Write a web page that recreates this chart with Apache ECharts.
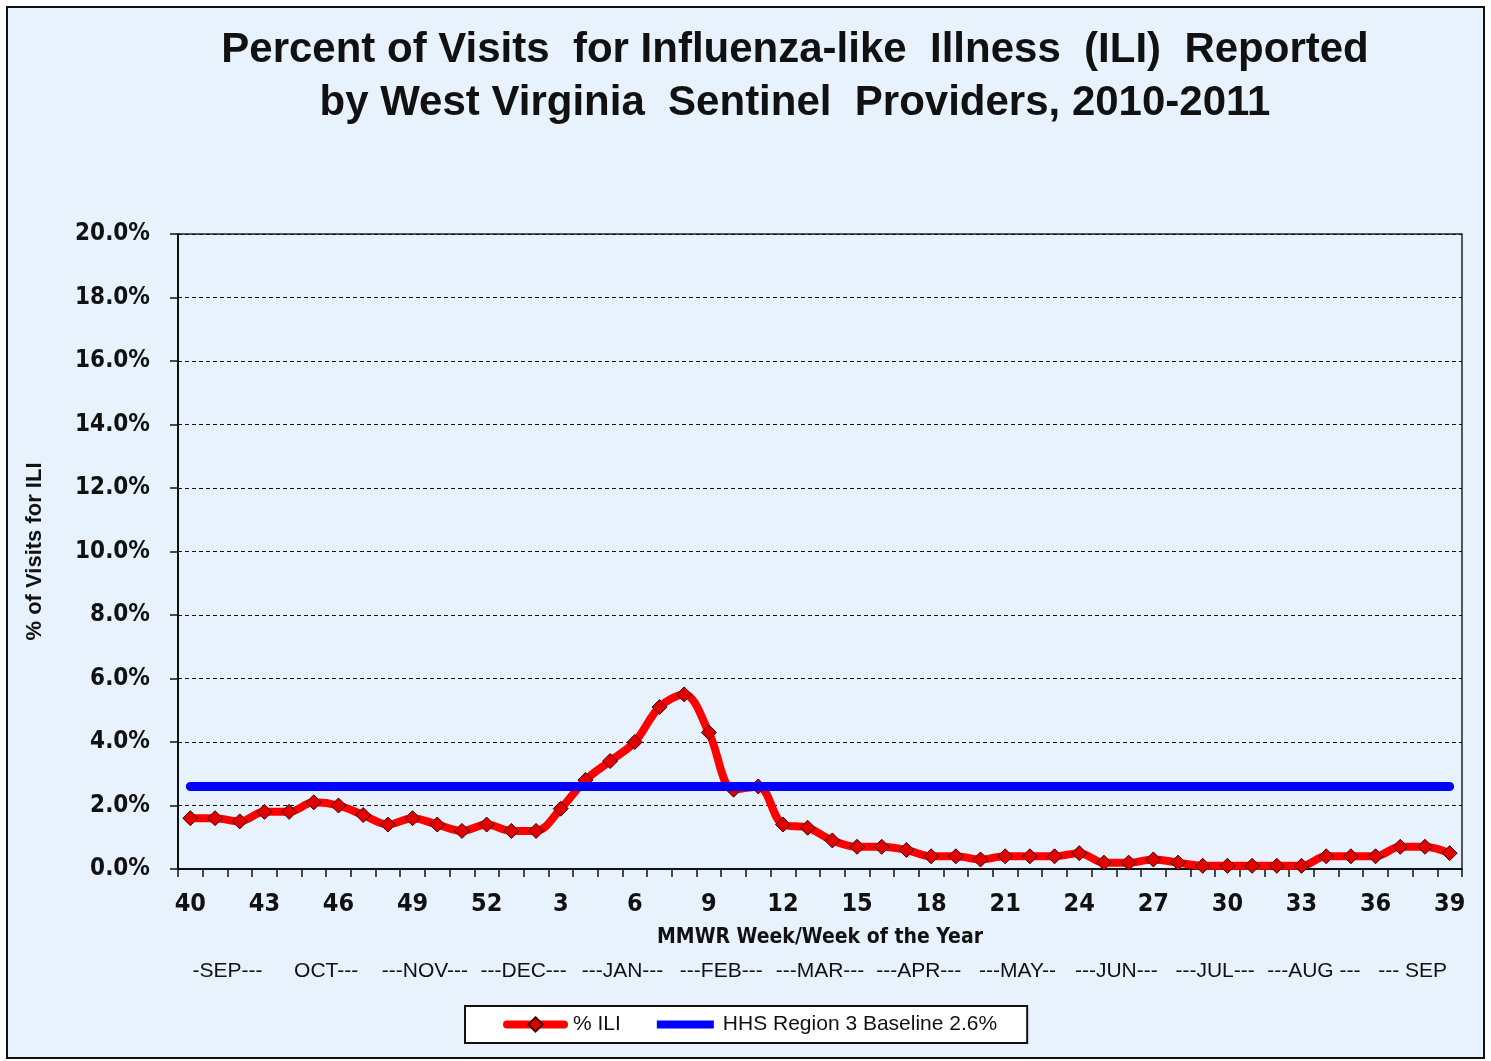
<!DOCTYPE html>
<html>
<head>
<meta charset="utf-8">
<script src="https://cdn.jsdelivr.net/npm/echarts@6/dist/echarts.min.js"></script>
<style>
  html, body { margin: 0; padding: 0; background: #fff; }
  #App { width: 1491px; height: 1061px; }
</style>
</head>
<body>
<div id="App"></div>
<script>
// MMWR weeks 40 (2010) through 39 (2011)
const weeks = [40, 41, 42, 43, 44, 45, 46, 47, 48, 49, 50, 51, 52,
  1, 2, 3, 4, 5, 6, 7, 8, 9, 10, 11, 12, 13, 14, 15, 16, 17, 18, 19, 20,
  21, 22, 23, 24, 25, 26, 27, 28, 29, 30, 31, 32, 33, 34, 35, 36, 37, 38, 39];
const iliPct = [1.6, 1.6, 1.5, 1.8, 1.8, 2.1, 2.0, 1.7, 1.4, 1.6, 1.4, 1.2, 1.4,
  1.2, 1.2, 1.9, 2.8, 3.4, 4.0, 5.1, 5.5, 4.3, 2.5, 2.6, 1.4, 1.3, 0.9, 0.7, 0.7, 0.6, 0.4, 0.4, 0.3,
  0.4, 0.4, 0.4, 0.5, 0.2, 0.2, 0.3, 0.2, 0.1, 0.1, 0.1, 0.1, 0.1, 0.4, 0.4, 0.4, 0.7, 0.7, 0.5];
const baselineValue = 2.6;
const baseline = weeks.map(() => baselineValue);
const months = ['-SEP---', 'OCT---', '---NOV---', '---DEC---', '---JAN---', '---FEB---', '---MAR---',
  '---APR---', '---MAY--', '---JUN---', '---JUL---', '---AUG ---', '--- SEP'];
const titleText = 'Percent of Visits  for Influenza-like  Illness  (ILI)  Reported\nby West Virginia  Sentinel  Providers, 2010-2011';

const narrow = "'Liberation Sans Narrow', 'DejaVu Sans Condensed', 'Liberation Sans', sans-serif";
const arial = "'Liberation Sans', Arial, sans-serif";
const bg = '#E8F2FC';

const chart = echarts.init(document.getElementById('App'));
chart.setOption({
    animation: false,
    backgroundColor: '#fff',
    graphic: [
        {
            type: 'rect',
            z: -10,
            shape: { x: 7, y: 7, width: 1477, height: 1051 },
            style: { fill: bg, stroke: '#111', lineWidth: 2 },
        },
        {
            type: 'text',
            x: 795,
            y: 24,
            style: {
                text: titleText,
                textAlign: 'center',
                font: 'bold 42px ' + arial,
                lineHeight: 53,
                fill: '#111',
            },
        },
    ],
    legend: {
        left: 465,
        top: 1006,
        padding: [8, 30, 8, 38],
        backgroundColor: '#fff',
        borderColor: '#111',
        borderWidth: 2,
        borderRadius: 0,
        itemWidth: 57,
        itemHeight: 18,
        itemGap: 36,
        lineStyle: { width: 8 },
        textStyle: { fontFamily: arial, fontSize: 21, color: '#111', padding: [0, 0, 0, 4] },
        data: [
            { name: '% ILI' },
            {
                name: 'HHS Region 3 Baseline 2.6%',
                icon: 'path://M0,0L57,0Z M0,18L57,18Z M0,5L57,5L57,13L0,13Z',
                itemStyle: { color: '#0000FF', borderWidth: 0 },
            },
        ],
    },
    grid: {
        left: 178,
        right: 29,
        top: 234,
        bottom: 192,
        show: true,
        backgroundColor: bg,
        borderColor: '#222',
        borderWidth: 1.5,
    },
    xAxis: [
        {
            type: 'category',
            data: weeks,
            boundaryGap: true,
            name: 'MMWR Week/Week of the Year',
            nameLocation: 'middle',
            nameGap: 58,
            nameTextStyle: { fontFamily: narrow, fontWeight: 'bold', fontSize: 21, color: '#111' },
            axisLine: { lineStyle: { color: '#111', width: 2 } },
            axisTick: { show: true, interval: 0, length: 8, lineStyle: { color: '#111', width: 1.5 } },
            axisLabel: {
                interval: 2,
                margin: 23,
                fontFamily: narrow,
                fontWeight: 'bold',
                fontSize: 25,
                color: '#111',
            },
            splitLine: { show: false },
        },
        {
            type: 'category',
            data: months,
            position: 'bottom',
            offset: 84,
            boundaryGap: true,
            axisLine: { show: false },
            axisTick: { show: false },
            axisLabel: {
                interval: 0,
                margin: 8,
                fontFamily: arial,
                fontSize: 21,
                color: '#111',
            },
            splitLine: { show: false },
        },
    ],
    yAxis: {
        type: 'value',
        min: 0,
        max: 20,
        interval: 2,
        name: '% of Visits for ILI',
        nameLocation: 'middle',
        nameRotate: 90,
        nameGap: 132,
        nameTextStyle: { fontFamily: arial, fontWeight: 'bold', fontSize: 22, color: '#111' },
        axisLine: { show: true, lineStyle: { color: '#111', width: 2 } },
        axisTick: { show: true, length: 8, lineStyle: { color: '#111', width: 1.5 } },
        axisLabel: {
            margin: 28,
            fontFamily: narrow,
            fontWeight: 'bold',
            fontSize: 24,
            color: '#111',
            formatter: (v) => v.toFixed(1) + '%',
        },
        splitLine: { show: true, lineStyle: { color: '#111', type: [4, 3], width: 1 } },
    },
    series: [
        {
            name: '% ILI',
            type: 'line',
            xAxisIndex: 0,
            data: iliPct,
            smooth: 0.35,
            symbol: 'diamond',
            symbolSize: 15,
            lineStyle: { color: '#FF0000', width: 8, cap: 'round' },
            itemStyle: { color: '#E00000', borderColor: '#3a0000', borderWidth: 1 },
            z: 2,
        },
        {
            name: 'HHS Region 3 Baseline 2.6%',
            type: 'line',
            xAxisIndex: 0,
            data: baseline,
            symbol: 'none',
            lineStyle: { color: '#0000FF', width: 9, cap: 'round' },
            itemStyle: { color: '#0000FF' },
            z: 3,
        },
    ],
});
</script>
</body>
</html>
